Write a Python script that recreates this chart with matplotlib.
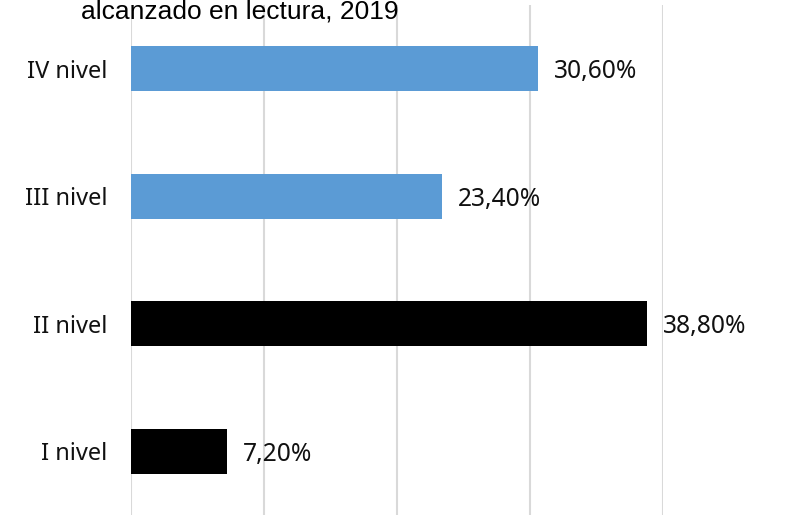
import matplotlib
matplotlib.use("Agg")
import matplotlib.pyplot as plt

# data
niveles = ["I nivel", "II nivel", "III nivel", "IV nivel"]
valores = [7.2, 38.8, 23.4, 30.6]
etiquetas = ["7,20%", "38,80%", "23,40%", "30,60%"]
colores = ["#000000", "#000000", "#5B9BD5", "#5B9BD5"]
titulo = "alcanzado en lectura, 2019"

plt.rcParams['font.family'] = ['Noto Sans', 'DejaVu Sans']

fig = plt.figure(figsize=(7.95, 5.15), dpi=100)
ax = fig.add_axes([131/795, 0, (663-131)/795, 510/515])

pos = range(len(niveles))
ax.barh(pos, valores, height=0.355, color=colores, zorder=3)

for i, (v, t) in enumerate(zip(valores, etiquetas)):
    ax.annotate(t, (v, i), xytext=(11.5, -2), textcoords="offset points",
                va="center", ha="left", fontsize=17.7, color="#111111")

ax.set_xlim(0, 40)
ax.set_ylim(-0.5, 3.5)
ax.set_xticks([0, 10, 20, 30, 40])
ax.set_xticklabels([])
ax.set_yticks(list(pos))
ax.set_yticklabels(niveles, fontsize=17, color="#111111")
ax.tick_params(axis="both", length=0)
ax.tick_params(axis="y", pad=17)
ax.grid(axis="x", color="#D9D9D9", linewidth=1.5, zorder=0)
for s in ax.spines.values():
    s.set_visible(False)

fig.text(240/795, 1 - 18/515, titulo, ha="center", va="baseline",
         fontsize=19, family="Liberation Sans", color="#000000")

fig.savefig("out.png", dpi=100)
